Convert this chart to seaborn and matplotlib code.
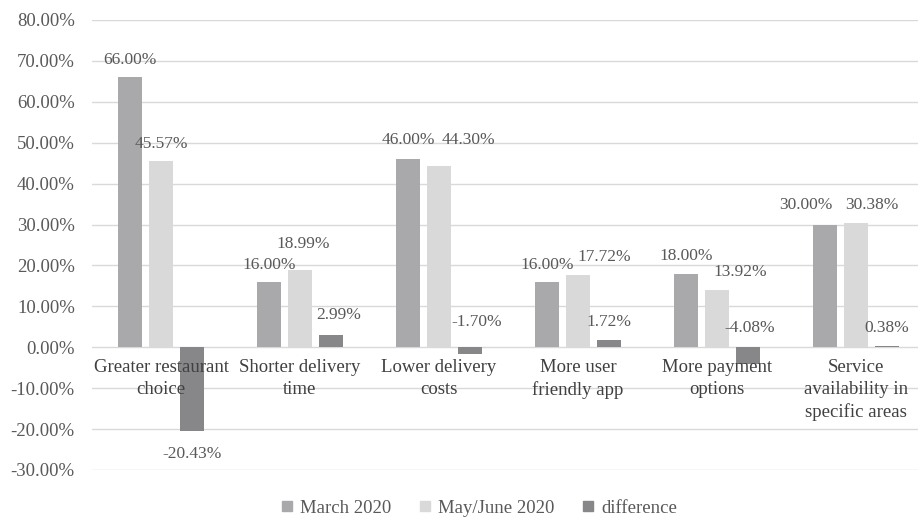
import pandas as pd
import matplotlib
matplotlib.use("Agg")
import matplotlib.pyplot as plt
from matplotlib.lines import Line2D
import seaborn as sns

categories = [
    "Greater restaurant\nchoice",
    "Shorter delivery\ntime",
    "Lower delivery\ncosts",
    "More user\nfriendly app",
    "More payment\noptions",
    "Service\navailability in\nspecific areas",
]
series_names = ["March 2020", "May/June 2020", "difference"]
march = [66.00, 16.00, 46.00, 16.00, 18.00, 30.00]
may_june = [45.57, 18.99, 44.30, 17.72, 13.92, 30.38]
difference = [-20.43, 2.99, -1.70, 1.72, -4.08, 0.38]

# where the data labels sit (value units) and their sideways nudge (pixels)
label_y = [
    [70.2, 20.0, 50.6, 20.2, 22.4, 34.7],
    [49.6, 25.3, 50.6, 22.0, 18.4, 34.7],
    [-26.0, 7.8, 6.1, 6.1, 4.65, 4.65],
]
label_dx = [
    [0, 0, 0, 0, 0, -19],
    [0, 3, 29, 26, 23, 16],
    [0, 8, 7, 0, 2, 0],
]

colors = ["#A9A9AB", "#D9D9DA", "#87878A"]

sns.set_theme(style="white")
plt.rcParams["font.family"] = ["Liberation Serif", "DejaVu Serif"]

df = pd.DataFrame({
    "category": categories * 3,
    "series": [s for s in series_names for _ in categories],
    "value": march + may_june + difference,
})

fig = plt.figure(figsize=(9.18, 5.18), dpi=100)
ax = fig.add_axes([91.5 / 918, 1 - 470 / 518, 834 / 918, 450 / 518])

sns.barplot(data=df, x="category", y="value", hue="series", hue_order=series_names,
            palette=colors, width=0.669, gap=0.215, linewidth=0, legend=False, ax=ax)

ax.set_ylim(-30, 80)
ax.set_xlim(-0.5, 5.5)
ax.set_yticks(range(-30, 81, 10))
ax.set_yticklabels([f"{t:.2f}%" for t in range(-30, 81, 10)], fontsize=13.5, color="#595959")
ax.set_xticks([])
ax.set_xlabel("")
ax.set_ylabel("")
ax.tick_params(axis="y", length=0, pad=12)
ax.grid(axis="y", color="#D9D9D9", linewidth=1)
ax.set_axisbelow(True)
for sp in ax.spines.values():
    sp.set_visible(False)

# data labels
for i, cont in enumerate(ax.containers):
    vals = [march, may_june, difference][i]
    for j, bar in enumerate(cont):
        xc = bar.get_x() + bar.get_width() / 2
        ax.annotate(f"{vals[j]:.2f}%", xy=(xc, label_y[i][j]), xytext=(label_dx[i][j], 0),
                    textcoords="offset pixels", ha="center", va="center",
                    fontsize=12.5, color="#595959")

# category labels hang under the zero line
for k, cat in enumerate(categories):
    ax.annotate(cat, xy=(k, 0), xytext=(0, -12), textcoords="offset pixels",
                ha="center", va="top", fontsize=13.5, color="#404040", linespacing=1.38)

handles = [Line2D([], [], marker="s", linestyle="", markersize=7, color=c) for c in colors]
fig.legend(handles, series_names, loc="center", bbox_to_anchor=(477 / 918, 1 - 508 / 518),
           ncol=3, frameon=False, fontsize=13.5, labelcolor="#595959",
           handletextpad=0.2, columnspacing=1.3, handlelength=1.0)

fig.savefig("out.png", dpi=100)
